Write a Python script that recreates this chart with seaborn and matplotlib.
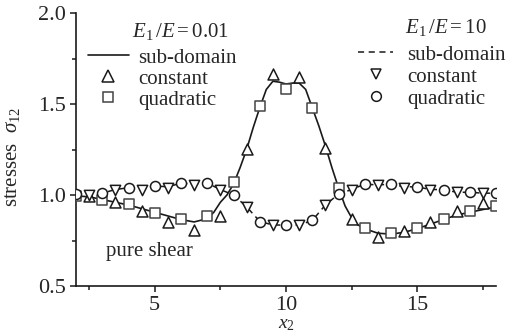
import numpy as np
import pandas as pd
import matplotlib.pyplot as plt
import seaborn as sns
from matplotlib.lines import Line2D

# E1/E = 0.01 : sub-domain curve, constant (triangles), quadratic (squares)
soft_x = [2, 2.5, 3, 3.5, 4, 4.5, 5, 5.5, 6, 6.5, 7, 7.25, 7.5, 7.75, 8, 8.25, 8.5,
          8.75, 9, 9.25, 9.5, 9.75, 10, 10.25, 10.5, 10.75, 11, 11.25, 11.5, 11.75,
          12, 12.25, 12.5, 12.75, 13, 13.5, 14, 14.5, 15, 15.5, 16, 16.5, 17, 17.5, 18]
soft_sub = [0.995, 0.99, 0.975, 0.96, 0.945, 0.925, 0.905, 0.885, 0.865, 0.852, 0.87,
            0.905, 0.96, 1.0, 1.06, 1.15, 1.25, 1.37, 1.48, 1.58, 1.625, 1.62, 1.61,
            1.615, 1.615, 1.58, 1.48, 1.38, 1.27, 1.15, 1.04, 0.94, 0.875, 0.835,
            0.815, 0.79, 0.785, 0.795, 0.815, 0.84, 0.865, 0.89, 0.905, 0.92, 0.935]
soft_const_x = [2.5, 3.5, 4.5, 5.5, 6.5, 7.5, 8.5, 9.5, 10.5, 11.5, 12.5, 13.5, 14.5, 15.5, 16.5, 17.5]
soft_const = [0.995, 0.96, 0.91, 0.85, 0.81, 0.885, 1.255, 1.665, 1.65, 1.26, 0.87,
              0.77, 0.80, 0.85, 0.91, 0.955]
soft_quad_x = [2, 3, 4, 5, 6, 7, 8, 9, 10, 11, 12, 13, 14, 15, 16, 17, 18]
soft_quad = [0.995, 0.97, 0.95, 0.90, 0.87, 0.885, 1.07, 1.49, 1.58, 1.48, 1.04, 0.82,
             0.79, 0.82, 0.87, 0.91, 0.94]

# E1/E = 10 : sub-domain curve (dashed), constant (inverted triangles), quadratic (circles)
stiff_x = [2, 2.5, 3, 3.5, 4, 4.5, 5, 5.5, 6, 6.5, 7, 7.5, 8, 8.5, 9, 9.5, 10, 10.5,
           11, 11.5, 12, 12.5, 13, 13.5, 14, 14.5, 15, 15.5, 16, 16.5, 17, 17.5, 18]
stiff_sub = [1.005, 1.0, 1.01, 1.03, 1.04, 1.035, 1.05, 1.045, 1.065, 1.06, 1.065, 1.03,
             1.0, 0.935, 0.855, 0.835, 0.835, 0.835, 0.86, 0.945, 1.005, 1.03, 1.06,
             1.055, 1.06, 1.045, 1.045, 1.03, 1.03, 1.015, 1.015, 1.01, 1.01]
stiff_const_x = [2.5, 3.5, 4.5, 5.5, 6.5, 7.5, 8.5, 9.5, 10.5, 11.5, 12.5, 13.5, 14.5, 15.5, 16.5, 17.5]
stiff_const = [1.0, 1.03, 1.03, 1.04, 1.055, 1.03, 0.935, 0.835, 0.835, 0.945, 1.03,
               1.055, 1.04, 1.03, 1.015, 1.01]
stiff_quad_x = [2, 3, 4, 5, 6, 7, 8, 9, 10, 11, 12, 13, 14, 15, 16, 17, 18]
stiff_quad = [1.005, 1.01, 1.04, 1.05, 1.066, 1.066, 1.0, 0.85, 0.835, 0.86, 1.005,
              1.06, 1.06, 1.045, 1.03, 1.015, 1.01]

sns.set_style("ticks")
plt.rcParams['font.family'] = ['Liberation Serif', 'DejaVu Serif']
plt.rcParams['mathtext.fontset'] = 'custom'
plt.rcParams['mathtext.rm'] = 'Liberation Serif'
plt.rcParams['mathtext.it'] = 'Liberation Serif:italic'

fig = plt.figure(figsize=(5.25, 3.35), dpi=100)
ax = fig.add_axes([76/525, 49/335, 420/525, 273/335])

ink = '#1a1a1a'
sq_col = '#444444'

sns.lineplot(x=soft_x, y=soft_sub, ax=ax, color=ink, lw=1.2, estimator=None, sort=False, zorder=2)
sns.lineplot(x=stiff_x, y=stiff_sub, ax=ax, color=ink, lw=1.1, estimator=None, sort=False,
             linestyle=(0, (4, 3)), zorder=2)

mk = dict(ax=ax, color='white', linewidth=1.1, zorder=3, legend=False)
sns.scatterplot(x=soft_const_x, y=soft_const, marker='^', s=62, edgecolor=ink, **mk)
sns.scatterplot(x=soft_quad_x, y=soft_quad, marker='s', s=44, edgecolor=sq_col, **mk)
sns.scatterplot(x=stiff_const_x, y=stiff_const, marker='v', s=55, edgecolor=ink, **mk)
sns.scatterplot(x=stiff_quad_x, y=stiff_quad, marker='o', s=52, edgecolor=ink, **mk)

ax.set_xlim(2, 18)
ax.set_ylim(0.5, 2.0)
ax.set_xticks([5, 10, 15])
ax.set_xticks([2.5, 7.5, 12.5, 17.5], minor=True)
ax.set_yticks([0.5, 1.0, 1.5, 2.0])
ax.set_yticks([0.75, 1.25, 1.75], minor=True)
ax.tick_params(which='major', length=4, width=1.1, labelsize=16, color=ink, pad=3)
ax.tick_params(which='minor', length=3, width=1.1, color=ink)
for s in ['left', 'bottom']:
    ax.spines[s].set_linewidth(1.2)
    ax.spines[s].set_color(ink)
sns.despine(ax=ax)

ax.set_xlabel(r"$x_2$", fontsize=14)
ax.xaxis.set_label_coords(0.502, -0.11)
ax.set_ylabel(r"stresses  $\sigma_{12}$", fontsize=15)
ax.yaxis.set_label_coords(-0.128, 0.473)

ax.text(4.8, 0.687, "pure shear", fontsize=15, ha='center', va='center')

h1 = [Line2D([], [], color=ink, lw=1.2),
      Line2D([], [], ls='none', marker='^', ms=8, mfc='white', mec=ink, mew=1.1),
      Line2D([], [], ls='none', marker='s', ms=6.5, mfc='white', mec=sq_col, mew=1.1)]
h2 = [Line2D([], [], color=ink, lw=1.1, ls=(0, (4, 3))),
      Line2D([], [], ls='none', marker='v', ms=7.5, mfc='white', mec=ink, mew=1.1),
      Line2D([], [], ls='none', marker='o', ms=7, mfc='white', mec=ink, mew=1.1)]
labels = ["sub-domain", "constant", "quadratic"]

leg1 = ax.legend(h1, labels, loc='upper left', bbox_to_anchor=(88/525, 1 - 48/335),
                 bbox_transform=fig.transFigure, frameon=False, fontsize=15,
                 handlelength=1.95, handletextpad=0.45, labelspacing=0.07, borderpad=0,
                 borderaxespad=0)
ax.add_artist(leg1)
ax.legend(h2, labels, loc='upper left', bbox_to_anchor=(358/525, 1 - 45/335),
          bbox_transform=fig.transFigure, frameon=False, fontsize=15,
          handlelength=1.7, handletextpad=0.65, labelspacing=0.12, borderpad=0,
          borderaxespad=0)

fig.text(180/525, 1 - 32/335, r"$E_1\,/E=0.01$", fontsize=15, ha='center', va='center')
fig.text(446/525, 1 - 27/335, r"$E_1\,/E=10$", fontsize=15, ha='center', va='center')

plt.savefig("out.png", dpi=100)
plt.close('all')
